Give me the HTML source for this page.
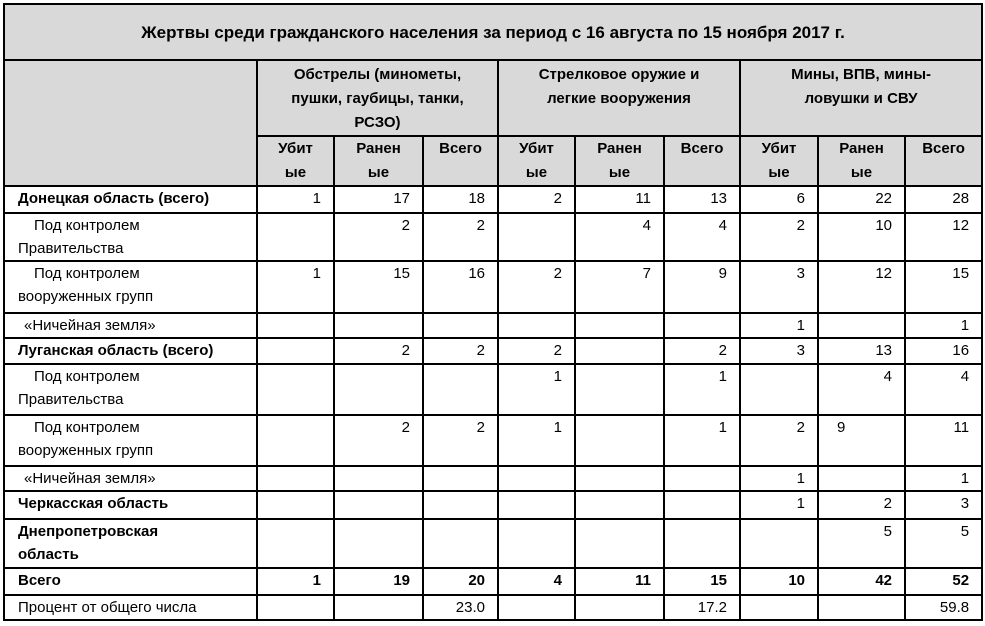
<!DOCTYPE html>
<html><head><meta charset="utf-8"><style>
html,body{margin:0;padding:0;background:#fff;width:985px;height:626px;overflow:hidden}
table{position:absolute;left:3px;top:3px;border-collapse:collapse;table-layout:fixed;width:978px;font-family:"Liberation Sans","DejaVu Sans",sans-serif;font-size:15px;color:#000}
td{border:2px solid #000;padding:0 12px 0 0;vertical-align:top;line-height:23px;text-align:right;overflow:hidden;white-space:nowrap}
td.l{text-align:left;padding:0 0 0 13px}
td.i{text-align:left;padding:0 0 0 13px}
td.i span{padding-left:16px}
.b{font-weight:bold}
.h{text-align:center;font-weight:bold;padding:0;line-height:24px}
.g{background:#d9d9d9}
.t{text-align:center;font-weight:bold;font-size:17px;vertical-align:middle;padding:0}
</style></head><body>
<table>
<colgroup><col style="width:253px"><col style="width:77px"><col style="width:89px"><col style="width:75px"><col style="width:77px"><col style="width:89px"><col style="width:76px"><col style="width:78px"><col style="width:87px"><col style="width:77px"></colgroup>
<tr style="height:56px"><td colspan="10" class="t g">Жертвы среди гражданского населения за период с 16 августа по 15 ноября 2017 г.</td></tr>
<tr style="height:76px"><td rowspan="2" class="g"></td><td colspan="3" class="h g" style="padding-top:2px">Обстрелы (минометы,<br>пушки, гаубицы, танки,<br>РСЗО)</td><td colspan="3" class="h g" style="padding-top:2px">Стрелковое оружие и<br>легкие вооружения</td><td colspan="3" class="h g" style="padding-top:2px">Мины, ВПВ, мины-<br>ловушки и СВУ</td></tr>
<tr style="height:49px"><td class="h g">Убит<br>ые</td><td class="h g">Ранен<br>ые</td><td class="h g">Всего</td><td class="h g">Убит<br>ые</td><td class="h g">Ранен<br>ые</td><td class="h g">Всего</td><td class="h g">Убит<br>ые</td><td class="h g">Ранен<br>ые</td><td class="h g">Всего</td></tr>
<tr style="height:27px"><td class="l b">Донецкая область (всего)</td><td>1</td><td>17</td><td>18</td><td>2</td><td>11</td><td>13</td><td>6</td><td>22</td><td>28</td></tr>
<tr style="height:48px"><td class="i"><span>Под контролем</span><br>Правительства</td><td></td><td>2</td><td>2</td><td></td><td>4</td><td>4</td><td>2</td><td>10</td><td>12</td></tr>
<tr style="height:52px"><td class="i"><span>Под контролем</span><br>вооруженных групп</td><td>1</td><td>15</td><td>16</td><td>2</td><td>7</td><td>9</td><td>3</td><td>12</td><td>15</td></tr>
<tr style="height:25px"><td class="i"><span style="padding-left:6px">«Ничейная земля»</span></td><td></td><td></td><td></td><td></td><td></td><td></td><td>1</td><td></td><td>1</td></tr>
<tr style="height:26px"><td class="l b">Луганская область (всего)</td><td></td><td>2</td><td>2</td><td>2</td><td></td><td>2</td><td>3</td><td>13</td><td>16</td></tr>
<tr style="height:51px"><td class="i"><span>Под контролем</span><br>Правительства</td><td></td><td></td><td></td><td>1</td><td></td><td>1</td><td></td><td>4</td><td>4</td></tr>
<tr style="height:51px"><td class="i"><span>Под контролем</span><br>вооруженных групп</td><td></td><td>2</td><td>2</td><td>1</td><td></td><td>1</td><td>2</td><td style="text-align:left;padding-left:18px">9</td><td>11</td></tr>
<tr style="height:25px"><td class="i"><span style="padding-left:6px">«Ничейная земля»</span></td><td></td><td></td><td></td><td></td><td></td><td></td><td>1</td><td></td><td>1</td></tr>
<tr style="height:28px"><td class="l b">Черкасская область</td><td></td><td></td><td></td><td></td><td></td><td></td><td>1</td><td>2</td><td>3</td></tr>
<tr style="height:49px"><td class="l b">Днепропетровская<br>область</td><td></td><td></td><td></td><td></td><td></td><td></td><td></td><td>5</td><td>5</td></tr>
<tr style="height:27px" class="b"><td class="l">Всего</td><td>1</td><td>19</td><td>20</td><td>4</td><td>11</td><td>15</td><td>10</td><td>42</td><td>52</td></tr>
<tr style="height:25px"><td class="l">Процент от общего числа</td><td></td><td></td><td>23.0</td><td></td><td></td><td>17.2</td><td></td><td></td><td>59.8</td></tr>
</table>
</body></html>
